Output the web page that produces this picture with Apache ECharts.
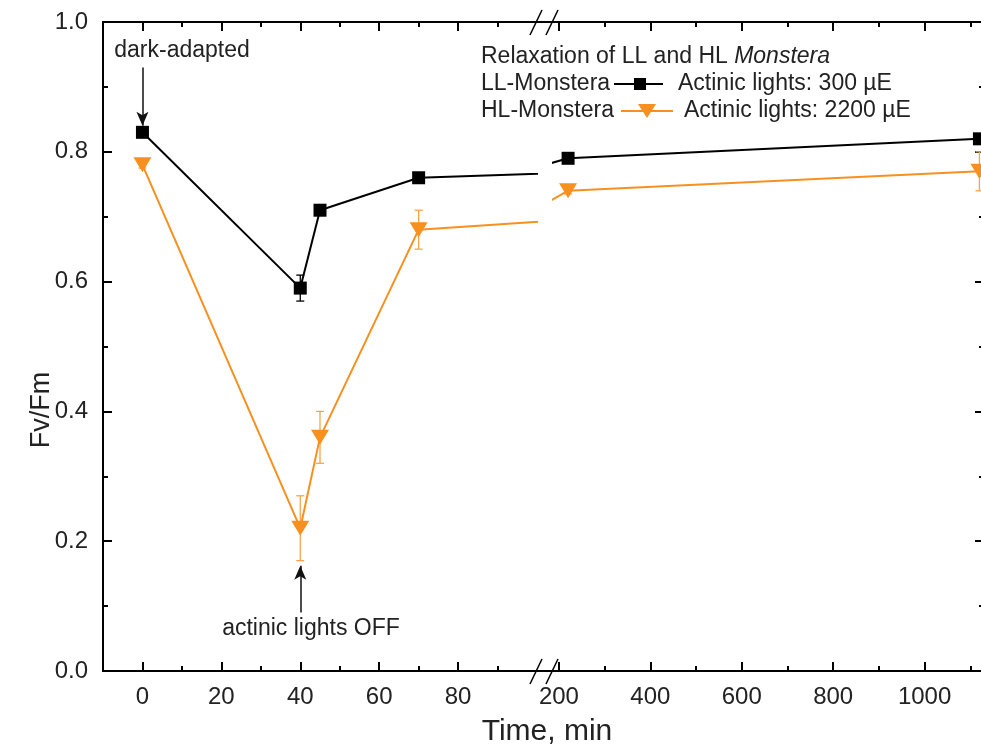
<!DOCTYPE html>
<html>
<head>
<meta charset="utf-8">
<script src="https://cdn.jsdelivr.net/npm/echarts@6/dist/echarts.min.js"></script>
<style>
html, body { margin: 0; padding: 0; background: #fff; }
#chart { width: 981px; height: 751px; }
</style>
</head>
<body>
<div id="chart"></div>
<script>
// time in minutes, Fv/Fm means and errors
var times = [0, 40, 45, 70, 220, 1120];
var llValues = [0.83, 0.59, 0.71, 0.76, 0.79, 0.82];
var llErrors = [0.005, 0.02, 0.005, 0.005, 0.005, 0.005];
var hlValues = [0.78, 0.22, 0.36, 0.68, 0.74, 0.77];
var hlErrors = [0.005, 0.05, 0.04, 0.03, 0.005, 0.03];

// axis ticks (the x axis is broken in two pieces)
var yTicks = [0, 0.2, 0.4, 0.6, 0.8, 1.0];
var leftRange = [-10, 100];
var leftMajor = [0, 20, 40, 60, 80];
var leftMinor = [10, 30, 50, 70, 90];
var rightRange = [187, 1130];
var rightMajor = [200, 400, 600, 800, 1000];
var rightMinor = [300, 500, 700, 900, 1100];

// annotation arrows: [x, from, to]
var darkArrow = [0, 0.93, 0.84];
var offArrow = [40, 0.09, 0.162];

var FONT = 'Liberation Sans, Arial, sans-serif';
var ORANGE = '#f7901e';
var TXT = '#222';

var chart = echarts.init(document.getElementById('chart'));

function xAxisDef(grid, pos, range, ticks, len, labels) {
    return {
        type: 'value', gridIndex: grid, position: pos,
        min: range[0], max: range[1],
        axisLine: { show: true, onZero: false, lineStyle: { color: '#000', width: 2 } },
        axisTick: { show: true, inside: true, length: len, customValues: ticks, lineStyle: { color: '#000', width: 2 } },
        axisLabel: {
            show: labels, customValues: ticks, margin: 14, color: TXT, fontSize: 24, fontFamily: FONT,
            formatter: function (v) { return String(v); }
        },
        splitLine: { show: false }
    };
}

function yAxisDef(grid, pos, labels) {
    return {
        type: 'value', gridIndex: grid, position: pos,
        min: 0, max: 1, interval: 0.2,
        axisLine: { show: true, onZero: false, lineStyle: { color: '#000', width: 2 } },
        axisTick: { show: true, inside: true, length: 9, lineStyle: { color: '#000', width: 2 } },
        minorTick: { show: true, splitNumber: 2, length: 5, lineStyle: { color: '#000', width: 2 } },
        axisLabel: {
            show: labels, customValues: yTicks, margin: 15, color: TXT, fontSize: 24, fontFamily: FONT,
            formatter: function (v) { return v.toFixed(1); }
        },
        splitLine: { show: false }
    };
}

function pairs(vals) {
    return times.map(function (t, i) { return [t, vals[i]]; });
}
function errPairs(vals, errs) {
    return times.map(function (t, i) { return [t, vals[i] - errs[i], vals[i] + errs[i]]; });
}

function errorBar(params, api) {
    var x = api.value(0);
    var top = api.coord([x, api.value(2)]);
    var bot = api.coord([x, api.value(1)]);
    var w = 4;
    var st = { stroke: api.visual('color'), lineWidth: 1.3 };
    return {
        type: 'group',
        children: [
            { type: 'line', shape: { x1: top[0], y1: top[1], x2: bot[0], y2: bot[1] }, style: st },
            { type: 'line', shape: { x1: top[0] - w, y1: top[1], x2: top[0] + w, y2: top[1] }, style: st },
            { type: 'line', shape: { x1: bot[0] - w, y1: bot[1], x2: bot[0] + w, y2: bot[1] }, style: st }
        ]
    };
}

function seriesFor(xi, yi, withMarks) {
    var list = [
        {
            type: 'custom', name: 'hl-err', xAxisIndex: xi, yAxisIndex: yi, clip: true,
            itemStyle: { color: '#f8a54a' }, encode: { x: 0, y: [1, 2] },
            renderItem: errorBar, data: errPairs(hlValues, hlErrors), z: 2
        },
        {
            type: 'custom', name: 'll-err', xAxisIndex: xi, yAxisIndex: yi, clip: true,
            itemStyle: { color: '#000' }, encode: { x: 0, y: [1, 2] },
            renderItem: errorBar, data: errPairs(llValues, llErrors), z: 2
        },
        {
            type: 'line', name: 'HL-Monstera', xAxisIndex: xi, yAxisIndex: yi, clip: true,
            data: pairs(hlValues), symbol: 'triangle', symbolRotate: 180, symbolSize: [18, 15],
            showAllSymbol: true,
            lineStyle: { color: ORANGE, width: 2 }, itemStyle: { color: ORANGE }, z: 3
        },
        {
            type: 'line', name: 'LL-Monstera', xAxisIndex: xi, yAxisIndex: yi, clip: true,
            data: pairs(llValues), symbol: 'rect', symbolSize: 13, showAllSymbol: true,
            lineStyle: { color: '#000', width: 2 }, itemStyle: { color: '#000' }, z: 4
        }
    ];
    if (withMarks) {
        list[3].markLine = {
            silent: true, symbol: ['none', 'arrow'], symbolSize: [9, 14],
            label: { show: false },
            lineStyle: { color: '#111', width: 1.5, type: 'solid' },
            data: [
                [{ coord: [darkArrow[0], darkArrow[1]] }, { coord: [darkArrow[0], darkArrow[2]] }],
                [{ coord: [offArrow[0], offArrow[1]] }, { coord: [offArrow[0], offArrow[2]] }]
            ]
        };
    }
    return list;
}

var textStyle = { fill: TXT, fontSize: 23, fontFamily: FONT };
function txt(x, y, s, extra) {
    return { type: 'text', x: x, y: y, style: Object.assign({ text: s, verticalAlign: 'middle' }, textStyle, extra || {}) };
}
function seg(x1, y1, x2, y2, color, w) {
    return { type: 'line', shape: { x1: x1, y1: y1, x2: x2, y2: y2 }, style: { stroke: color, lineWidth: w } };
}

var option = {
    backgroundColor: '#fff',
    animation: false,
    grid: [
        { left: 103, top: 22, width: 434, height: 649, outerBoundsMode: 'none' },
        { left: 553, top: 22, width: 431, height: 649, outerBoundsMode: 'none' }
    ],
    xAxis: [
        xAxisDef(0, 'bottom', leftRange, leftMajor, 9, true),
        xAxisDef(0, 'bottom', leftRange, leftMinor, 5, false),
        xAxisDef(0, 'top', leftRange, leftMajor, 9, false),
        xAxisDef(0, 'top', leftRange, leftMinor, 5, false),
        xAxisDef(1, 'bottom', rightRange, rightMajor, 9, true),
        xAxisDef(1, 'bottom', rightRange, rightMinor, 5, false),
        xAxisDef(1, 'top', rightRange, rightMajor, 9, false),
        xAxisDef(1, 'top', rightRange, rightMinor, 5, false)
    ],
    yAxis: [
        yAxisDef(0, 'left', true),
        yAxisDef(1, 'right', false)
    ],
    series: seriesFor(0, 0, true).concat(seriesFor(4, 1, false)),
    graphic: [
        // axis line across the break, and the break marks
        seg(536, 671, 554, 671, '#000', 2),
        seg(536, 22, 554, 22, '#000', 2),
        seg(530, 684, 542, 659, '#000', 1.5),
        seg(546, 684, 558, 659, '#000', 1.5),
        seg(530, 35, 542, 10, '#000', 1.5),
        seg(546, 35, 558, 10, '#000', 1.5),
        // axis names
        txt(547, 732, 'Time, min', { fontSize: 30, align: 'center' }),
        { type: 'text', x: 42, y: 410, rotation: Math.PI / 2,
          style: { text: 'Fv/Fm', fill: TXT, fontSize: 27, fontFamily: FONT, align: 'center', verticalAlign: 'middle' } },
        // annotations
        txt(182, 51, 'dark-adapted', { align: 'center' }),
        txt(311, 629, 'actinic lights OFF', { align: 'center' }),
        // legend
        { type: 'text', x: 481, y: 57, style: {
            text: 'Relaxation of LL and HL {i|Monstera}', fill: TXT, fontSize: 23, fontFamily: FONT, verticalAlign: 'middle',
            rich: { i: { fontStyle: 'italic', fontSize: 23, fontFamily: FONT, fill: TXT } } } },
        txt(481, 84, 'LL-Monstera'),
        seg(614, 84, 663, 84, '#000', 2),
        { type: 'rect', shape: { x: 634, y: 78, width: 12, height: 12 }, style: { fill: '#000' } },
        txt(678, 84, 'Actinic lights: 300 µE'),
        txt(481, 111, 'HL-Monstera'),
        seg(621, 111, 673, 111, ORANGE, 2),
        { type: 'polygon', shape: { points: [[638, 104], [656, 104], [647, 118]] }, style: { fill: ORANGE } },
        txt(684, 111, 'Actinic lights: 2200 µE')
    ]
};

chart.setOption(option);
</script>
</body>
</html>
